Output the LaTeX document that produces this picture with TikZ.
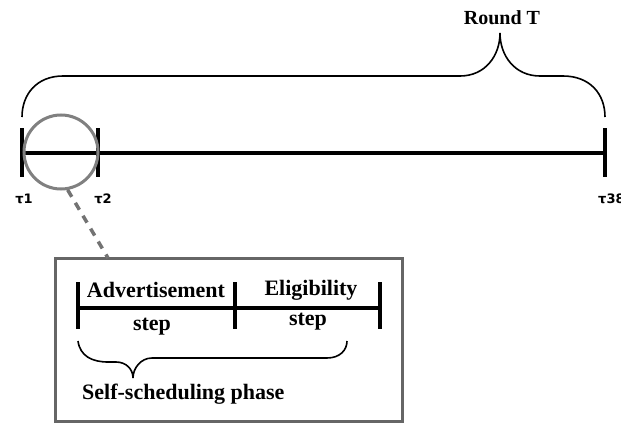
\documentclass[tikz,border=0pt]{standalone}
\usepackage{fontspec}
\setmainfont{Liberation Serif}
\newfontfamily\taufont{DejaVu Sans}
\usepackage{tikz}

\begin{document}
\begin{tikzpicture}[x=1pt, y=-1pt,
    bar/.style={line width=3.5pt},
    lens/.style={draw=black!50, line width=3pt, circle, minimum size=74pt, inner sep=0pt},
    zoomline/.style={draw=black!55, line width=3.5pt, dash pattern=on 8pt off 7pt},
    bracket/.style={line width=1.6pt},
    tick/.style={font=\taufont\bfseries\fontsize{13}{15}\selectfont, inner sep=0pt},
    word/.style={font=\bfseries\fontsize{22}{25}\selectfont, inner sep=0pt}]

    \clip (0,0) rectangle (621,423);

    % timeline of the round
    \coordinate (a) at (22, 153);
    \coordinate (b) at (98, 153);
    \coordinate (c) at (605, 153);
    \draw [bar] (a) -- (c);
    \draw [bar] (22, 128) -- (22, 177);
    \draw [bar] (98, 128) -- (98, 177);
    \draw [bar] (605, 128) -- (605, 177);
    \node [tick] (d) at (24, 199) {τ1};
    \node [tick] (e) at (103, 199) {τ2};
    \node [tick, anchor=west] (f) at (598, 199) {τ38};

    % brace over the round
    \draw [bracket] (22, 117) .. controls (22, 94) and (37, 76) .. (63, 76) -- (460, 76)
        .. controls (485, 76) and (500, 56) .. (500, 33)
        .. controls (500, 56) and (515, 76) .. (540, 76) -- (563, 76)
        .. controls (590, 76) and (605, 94) .. (605, 117);
    \node [word, font=\bfseries\fontsize{20}{24}\selectfont] (g) at (502, 18) {Round T};

    % zoom into the first slot
    \node [lens] (h) at (61, 152) {};
    \node [draw=black!60, line width=3pt, minimum width=347pt, minimum height=163pt, inner sep=0pt] (i) at (228.5, 339.5) {};
    \coordinate (j) at (108, 258);
    \draw [zoomline] (h.-80) -- (j);

    % steps of the phase
    \draw [bar] (78, 308) -- (380, 308);
    \draw [bar] (78, 282) -- (78, 329);
    \draw [bar] (235, 282) -- (235, 329);
    \draw [bar] (380, 282) -- (380, 329);
    \node [word] (k) at (156, 290) {Advertisement};
    \node [word] (l) at (152, 327) {step};
    \node [word] (m) at (311, 290) {Eligibility};
    \node [word] (n) at (308, 322) {step};

    % brace under the steps
    \draw [bracket] (78, 341) .. controls (80, 356) and (92, 362) .. (108, 362) -- (116, 362)
        .. controls (126, 362) and (133, 369) .. (133, 378)
        .. controls (133, 368) and (141, 358) .. (152, 358) -- (327, 358)
        .. controls (340, 358) and (347, 350) .. (347, 341);
    \node [word, anchor=west] (o) at (82, 394) {Self-scheduling phase};

\end{tikzpicture}
\end{document}
